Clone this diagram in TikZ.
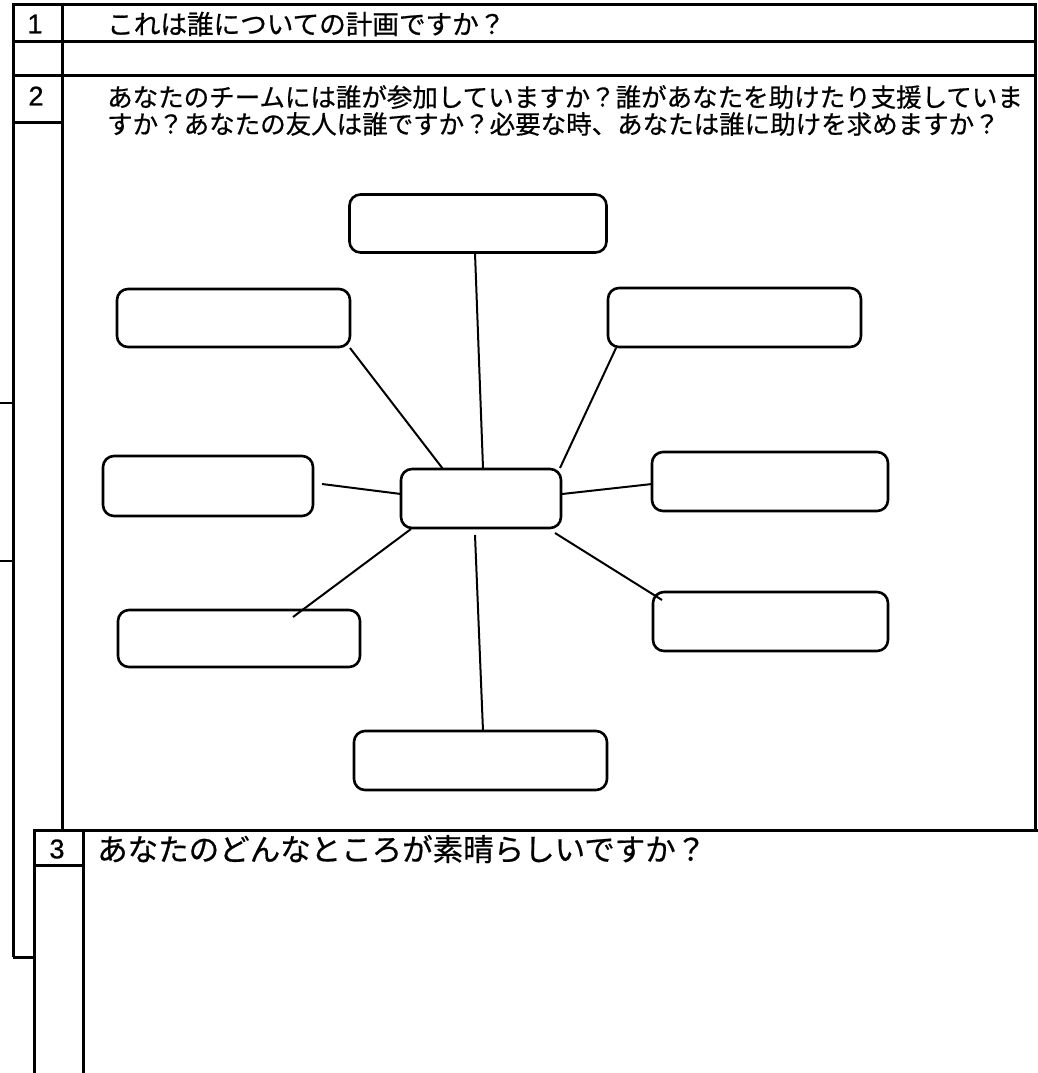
\documentclass[tikz,border=0pt]{standalone}
\usepackage{fontspec}
\setmainfont{Liberation Sans}
\newfontfamily\jp[FakeBold=0.6]{Noto Sans CJK JP}
\newfontfamily\numfont[FakeBold=0.8]{Liberation Sans}
\begin{document}
\begin{tikzpicture}[x=1pt,y=-1pt,
  frame/.style={line width=3pt},
  bx/.style={draw,line width=2.6pt,rounded corners=11pt,inner sep=0pt},
  conn/.style={line width=2pt},
  txt/.style={inner sep=0pt,anchor=west},
  num/.style={inner sep=0pt,font=\numfont\fontsize{27}{29}\selectfont}]
\useasboundingbox (0,0) rectangle (1038,1073);
% table frame (sections 1 and 2)
\draw[frame] (13,957) -- (13,5) -- (1035,5) -- (1035,829);
\draw[frame] (62,5) -- (62,829);
\draw[frame] (13,42) -- (1035,42);
\draw[frame] (13,75) -- (1035,75);
\draw[frame] (13,122) -- (62,122);
\draw[frame] (13,957) -- (34,957);
\draw[line width=2.4pt] (0,403) -- (13,403);
\draw[line width=2.4pt] (0,561) -- (13,561);
% section 3
\draw[frame] (34,1073) -- (34,830) -- (1038,830);
\draw[frame] (83,830) -- (83,1073);
\draw[frame] (34,865) -- (83,865);
% labels
\node[num] (n1) at (35,24) {1};
\node[num] (n2) at (36,96) {2};
\node[num] (n3) at (57,849) {3};
\node[txt,font=\jp\fontsize{26.6}{28}\selectfont] (q1) at (107,24) {これは誰についての計画ですか？};
\node[txt,font=\jp\fontsize{25.5}{28}\selectfont] (q2a) at (107,97) {あなたのチームには誰が参加していますか？誰があなたを助けたり支援していま};
\node[txt,font=\jp\fontsize{25.5}{28}\selectfont] (q2b) at (107,124) {すか？あなたの友人は誰ですか？必要な時、あなたは誰に助けを求めますか？};
\node[txt,font=\jp\fontsize{30.5}{32}\selectfont] (q3) at (97,849) {あなたのどんなところが素晴らしいですか？};
% boxes
\node[bx,minimum width=257pt,minimum height=58pt] (top) at (478,223.5) {};
\node[bx,minimum width=233pt,minimum height=58pt] (ul) at (233.5,318) {};
\node[bx,minimum width=253pt,minimum height=59pt] (ur) at (734.5,317.5) {};
\node[bx,minimum width=210pt,minimum height=60pt] (ml) at (208,486) {};
\node[bx,minimum width=160pt,minimum height=59pt] (c) at (481,498.5) {};
\node[bx,minimum width=236pt,minimum height=59pt] (mr) at (770,481.5) {};
\node[bx,minimum width=242pt,minimum height=57pt] (ll) at (239,638.5) {};
\node[bx,minimum width=235pt,minimum height=59pt] (lr) at (770.5,621.5) {};
\node[bx,minimum width=253pt,minimum height=59pt] (bot) at (480.5,760.5) {};
% connector ends
\coordinate (t1) at (475,253);  \coordinate (t2) at (483,468);
\coordinate (a1) at (350,348);  \coordinate (a2) at (443,469);
\coordinate (b1) at (616,348);  \coordinate (b2) at (560,468);
\coordinate (d1) at (322,484);  \coordinate (d2) at (401,494);
\coordinate (e1) at (562,494);  \coordinate (e2) at (652,484);
\coordinate (f1) at (411,529);  \coordinate (f2) at (293,617);
\coordinate (g1) at (555,533);  \coordinate (g2) at (662,600);
\coordinate (h1) at (475,535);  \coordinate (h2) at (483,731);
\draw[conn] (t1) -- (t2);
\draw[conn] (a1) -- (a2);
\draw[conn] (b1) -- (b2);
\draw[conn] (d1) -- (d2);
\draw[conn] (e1) -- (e2);
\draw[conn] (f1) -- (f2);
\draw[conn] (g1) -- (g2);
\draw[conn] (h1) -- (h2);
\end{tikzpicture}
\end{document}
